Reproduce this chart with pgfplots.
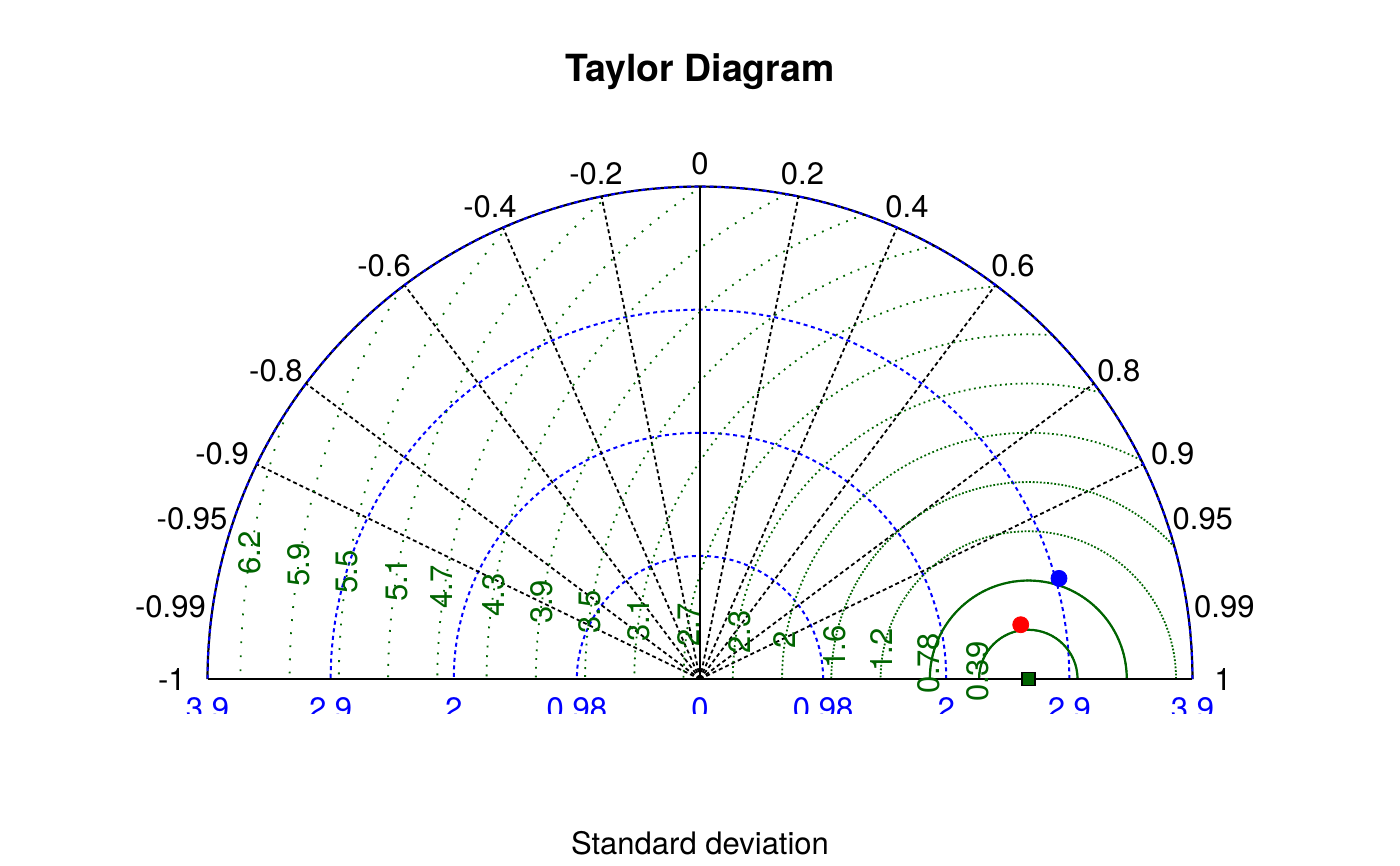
\documentclass[border=0pt]{standalone}
\usepackage{pgfplots}
\pgfplotsset{compat=1.18}
\usepackage{fontspec}
\setmainfont{TeX Gyre Heros}
\definecolor{tdgreen}{RGB}{0,100,0}

\begin{document}
\begin{tikzpicture}
\useasboundingbox (-350bp,-93.4859bp) rectangle (350bp,339.5141bp);
% grid drawn in sd units, origin at sd = 0
\begin{scope}[x=63.1348bp, y=63.1348bp, font=\fontsize{15.5bp}{18bp}\selectfont]
  % sd arcs
  \foreach \r in {0.975,1.95,2.925}
    \draw[blue, line width=1bp, dash pattern=on 2bp off 1.8bp]
      (\r,0) arc[start angle=0, end angle=180, radius=\r];
  % correlation rays
  \foreach \cc in {0.2,0.4,0.6,0.8,0.9,-0.2,-0.4,-0.6,-0.8,-0.9}
    \draw[black, line width=0.9bp, dash pattern=on 2bp off 1.5bp]
      (0,0) -- ({3.9*\cc},{3.9*sqrt(1-(\cc)^2)});
  % centred RMS arcs round the reference point
  \foreach \k in {1,...,16} {
    \pgfmathsetmacro\g{0.39*\k}
    \pgfmathsetmacro\gx{(15.21-\g*\g+6.76)/5.2}
    \ifdim \g pt<1.3pt \def\sa{0}\else
      \pgfmathsetmacro\sa{atan2(sqrt(15.21-\gx*\gx), \gx-2.6)}\fi
    \pgfmathsetmacro\gof{max(1.12*\g,1.8)-0.9}
    \draw[tdgreen, line width=0.9bp, dash pattern=on 0.9bp off \gof bp]
      ({2.6+\g*cos(\sa)},{\g*sin(\sa)}) arc[start angle=\sa, end angle=180, radius=\g];
  }
  \draw[tdgreen, line width=1.1bp] (2.99,0) arc[start angle=0, end angle=180, radius=0.39];
  \draw[tdgreen, line width=1.1bp] (3.38,0) arc[start angle=0, end angle=180, radius=0.78];
  % frame
  \draw[black, line width=1.1bp] (3.9,0) arc[start angle=0, end angle=180, radius=3.9];
  \draw[blue, line width=1bp, dash pattern=on 2bp off 1.8bp]
    (3.9,0) arc[start angle=0, end angle=180, radius=3.9];
  \draw[black, line width=1.1bp] (-3.9,0) -- (3.9,0);
  \draw[black, line width=1.1bp] (0,0) -- (0,3.9);

  % correlation labels
  \begin{scope}[every node/.style={inner sep=0pt}]
    \node at (0,4.0844) {0};
    \node at (0.8117,4.0046) {0.2};
    \node at (-0.8236,4.0046) {-0.2};
    \node at (1.639,3.738) {0.4};
    \node at (-1.663,3.738) {-0.4};
    \node at (2.479,3.270) {0.6};
    \node at (-2.502,3.270) {-0.6};
    \node[anchor=west] at (3.144,2.44) {0.8};
    \node[anchor=west] at (3.570,1.782) {0.9};
    \node[anchor=west] at (3.740,1.267) {0.95};
    \node[anchor=west] at (3.911,0.571) {0.99};
    \node[anchor=west] at (4.070,0) {1};
    \node[anchor=east] at (-3.144,2.44) {-0.8};
    \node[anchor=east] at (-3.570,1.782) {-0.9};
    \node[anchor=east] at (-3.740,1.267) {-0.95};
    \node[anchor=east] at (-3.911,0.571) {-0.99};
    \node[anchor=east] at (-4.070,0) {-1};
  \end{scope}

  % RMS labels
  \foreach \px/\py/\t in {-3.5635/0.9978/6.2, -3.181/0.9028/5.9, -2.798/0.8497/5.5,
      -2.402/0.7840/5.1, -2.045/0.7309/4.7, -1.637/0.6652/4.3, -1.254/0.6121/3.9,
      -0.871/0.5329/3.5, -0.489/0.4672/3.1, -0.0927/0.4276/2.7, 0.3168/0.3746/2.3,
      0.673/0.3088/2, 1.069/0.2558/1.6, 1.439/0.2296/1.2, 1.813/0.1267/0.78,
      2.199/0.0578/0.39}
    \node[tdgreen, rotate=90, inner sep=0pt] at (\px,\py) {\t};

  % sd labels, cut by the plot region
  \begin{scope}
    \clip (-5.6,-0.2692) rectangle (5.6,1);
    \foreach \px/\t in {-3.9/3.9, -2.925/2.9, -1.95/2, -0.975/0.98, 0/0,
        0.975/0.98, 1.95/2, 2.925/2.9, 3.9/3.9}
      \node[blue, anchor=north, inner sep=0pt] at (\px,-0.1425) {\t};
  \end{scope}

  \node[anchor=base, font=\fontsize{18.7bp}{22bp}\selectfont\bfseries] at (0,4.730) {Taylor Diagram};
  \node[anchor=base] at (0,-1.388) {Standard deviation};
\end{scope}

\begin{axis}[at={(-350bp,-93.4859bp)}, anchor=south west,
  scale only axis, width=700bp, height=433bp,
  xmin=-5.5437, xmax=5.5437, ymin=-1.48076, ymax=5.37755,
  hide axis, clip=false]
  % reference
  \addplot[only marks, mark=square*, mark size=3.2bp,
    mark options={draw=black, fill=tdgreen, line width=0.8bp}] coordinates {(2.6,0)};
  % models
  \addplot[only marks, mark=*, mark size=4bp, red] coordinates {(2.540,0.430)};
  \addplot[only marks, mark=*, mark size=4bp, blue] coordinates {(2.843,0.797)};
\end{axis}
\end{tikzpicture}
\end{document}
